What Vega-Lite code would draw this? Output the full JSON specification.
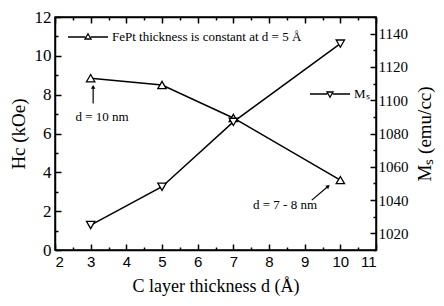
{
  "$schema": "https://vega.github.io/schema/vega-lite/v6.json",
  "width": 321,
  "height": 233,
  "autosize": "none",
  "padding": {"left": 55, "top": 17, "right": 68, "bottom": 56},
  "background": "white",
  "config": {
    "view": {"stroke": "black", "strokeWidth": 1.5},
    "axis": {"domainColor": "black", "domainWidth": 1.5, "tickColor": "black", "tickWidth": 1.5, "grid": false, "labelColor": "black", "titleColor": "black", "titleFontWeight": "normal", "labelFont": "Liberation Serif", "titleFont": "Liberation Serif"}
  },
  "datasets": {
    "hc": [
      {"d": 3, "v": 8.85, "series": "FePt thickness is constant at d = 5 Å"},
      {"d": 5, "v": 8.5, "series": "FePt thickness is constant at d = 5 Å"},
      {"d": 7, "v": 6.8, "series": "FePt thickness is constant at d = 5 Å"},
      {"d": 10, "v": 3.6, "series": "FePt thickness is constant at d = 5 Å"}
    ],
    "ms": [
      {"d": 3, "v": 1025, "series": "Mₛ"},
      {"d": 5, "v": 1048, "series": "Mₛ"},
      {"d": 7, "v": 1087, "series": "Mₛ"},
      {"d": 10, "v": 1134, "series": "Mₛ"}
    ],
    "notes": [
      {"d": 3.32, "v": 6.85, "text": "d = 10 nm"},
      {"d": 8.45, "v": 2.32, "text": "d = 7 - 8 nm"}
    ],
    "arrows": [
      {"id": "a", "d": 3.07, "v": 7.55, "d2": 3.07, "v2": 8.4},
      {"id": "b", "d": 9.2, "v": 2.57, "d2": 9.66, "v2": 3.28}
    ]
  },
  "layer": [
    {
      "data": {"name": "hc"},
      "mark": {"type": "line", "color": "black", "strokeWidth": 1.5},
      "encoding": {
        "x": {"field": "d", "type": "quantitative", "scale": {"domain": [2, 11], "nice": false}, "title": "C  layer thickness d (Å)",
          "axis": {"orient": "bottom", "values": [2,3,4,5,6,7,8,9,10,11], "tickSize": -6, "labelPadding": 10, "labelFont": "Liberation Sans", "labelFontSize": 15, "titleFontSize": 18, "titlePadding": 8, "titleColor": "black"}},
        "y": {"field": "v", "type": "quantitative", "scale": {"domain": [0, 12], "nice": false}, "title": "Hc (kOe)",
          "axis": {"orient": "left", "values": [0,2,4,6,8,10,12], "tickSize": -6, "labelPadding": 10, "labelFontSize": 17, "titleFontSize": 19, "titlePadding": 6, "titleColor": "black"}},
        "stroke": {"field": "series", "type": "nominal", "scale": {"range": ["black"]},
          "legend": {"orient": "none", "legendX": 12, "legendY": -1, "title": null, "symbolType": "M-1,0H-0.14M0.14,0H1M0,-0.16L0.15,0.1L-0.15,0.1Z", "symbolSize": 1600, "symbolStrokeWidth": 1.3, "symbolFillColor": "white", "labelFont": "Liberation Serif", "labelFontSize": 13, "labelColor": "black", "labelOffset": 3, "labelLimit": 400, "padding": 0}}
      }
    },
    {
      "data": {"name": "hc"},
      "mark": {"type": "point", "shape": "triangle-up", "filled": true, "fill": "white", "stroke": "black", "strokeWidth": 1.3, "size": 70, "opacity": 1},
      "encoding": {
        "x": {"field": "d", "type": "quantitative", "axis": null},
        "y": {"field": "v", "type": "quantitative", "scale": {"domain": [0, 12], "nice": false}, "axis": null}
      }
    },
    {
      "data": {"name": "ms"},
      "mark": {"type": "line", "color": "black", "strokeWidth": 1.5},
      "encoding": {
        "x": {"field": "d", "type": "quantitative", "axis": {"orient": "top", "values": [2,3,4,5,6,7,8,9,10,11], "tickSize": -6, "labels": false, "title": null}},
        "y": {"field": "v", "type": "quantitative", "scale": {"domain": [1010, 1150], "nice": false}, "title": "Mₛ (emu/cc)",
          "axis": {"orient": "right", "values": [1020,1040,1060,1080,1100,1120,1140], "format": "d", "tickSize": -6, "labelPadding": 8, "labelFontSize": 15, "titleFontSize": 19, "titleAngle": -90, "titlePadding": 26, "titleColor": "black"}},
        "stroke": {"field": "series", "type": "nominal", "scale": {"range": ["black"]},
          "legend": {"orient": "none", "legendX": 254, "legendY": 56, "title": null, "symbolType": "M-1,0H-0.14M0.14,0H1M0,0.16L0.15,-0.1L-0.15,-0.1Z", "symbolSize": 1600, "symbolStrokeWidth": 1.3, "symbolFillColor": "white", "labelFont": "Liberation Serif", "labelFontSize": 13, "labelColor": "black", "labelOffset": 3, "padding": 0}}
      }
    },
    {
      "data": {"name": "ms"},
      "mark": {"type": "point", "shape": "triangle-down", "filled": true, "fill": "white", "stroke": "black", "strokeWidth": 1.3, "size": 70, "opacity": 1},
      "encoding": {
        "x": {"field": "d", "type": "quantitative", "axis": null},
        "y": {"field": "v", "type": "quantitative", "scale": {"domain": [1010, 1150], "nice": false}, "axis": null}
      }
    },
    {
      "data": {"name": "hc"},
      "mark": {"type": "point", "opacity": 0},
      "encoding": {
        "x": {"field": "d", "type": "quantitative", "axis": {"orient": "bottom", "values": [2.5,3.5,4.5,5.5,6.5,7.5,8.5,9.5,10.5], "tickSize": -3, "labels": false, "domain": false, "title": null}},
        "y": {"field": "v", "type": "quantitative", "scale": {"domain": [0, 12], "nice": false}, "axis": {"orient": "left", "values": [1,3,5,7,9,11], "tickSize": -3, "labels": false, "domain": false, "title": null}}
      }
    },
    {
      "data": {"name": "ms"},
      "mark": {"type": "point", "opacity": 0},
      "encoding": {
        "x": {"field": "d", "type": "quantitative", "axis": {"orient": "top", "values": [2.5,3.5,4.5,5.5,6.5,7.5,8.5,9.5,10.5], "tickSize": -3, "labels": false, "domain": false, "title": null}},
        "y": {"field": "v", "type": "quantitative", "scale": {"domain": [1010, 1150], "nice": false}, "axis": {"orient": "right", "values": [1010,1030,1050,1070,1090,1110,1130,1150], "tickSize": -3, "labels": false, "domain": false, "title": null}}
      }
    },
    {
      "data": {"name": "notes"},
      "mark": {"type": "text", "font": "Liberation Serif", "fontSize": 13, "color": "black"},
      "encoding": {
        "x": {"field": "d", "type": "quantitative", "axis": null},
        "y": {"field": "v", "type": "quantitative", "scale": {"domain": [0, 12], "nice": false}, "axis": null},
        "text": {"field": "text"}
      }
    },
    {
      "data": {"name": "arrows"},
      "mark": {"type": "rule", "color": "black", "strokeWidth": 1.2},
      "encoding": {
        "x": {"field": "d", "type": "quantitative", "axis": null},
        "y": {"field": "v", "type": "quantitative", "scale": {"domain": [0, 12], "nice": false}, "axis": null},
        "x2": {"field": "d2"},
        "y2": {"field": "v2"}
      }
    },
    {
      "data": {"name": "arrows"},
      "transform": [{"filter": "datum.id == 'a'"}],
      "mark": {"type": "point", "shape": "triangle-up", "filled": true, "color": "black", "size": 20, "opacity": 1},
      "encoding": {
        "x": {"field": "d2", "type": "quantitative", "axis": null},
        "y": {"field": "v2", "type": "quantitative", "scale": {"domain": [0, 12], "nice": false}, "axis": null}
      }
    },
    {
      "data": {"name": "arrows"},
      "transform": [{"filter": "datum.id == 'b'"}],
      "mark": {"type": "point", "shape": "triangle-up", "filled": true, "color": "black", "size": 20, "angle": 50, "opacity": 1},
      "encoding": {
        "x": {"field": "d2", "type": "quantitative", "axis": null},
        "y": {"field": "v2", "type": "quantitative", "scale": {"domain": [0, 12], "nice": false}, "axis": null}
      }
    }
  ],
  "resolve": {"scale": {"y": "independent", "stroke": "independent"}, "axis": {"x": "independent", "y": "independent"}}
}
